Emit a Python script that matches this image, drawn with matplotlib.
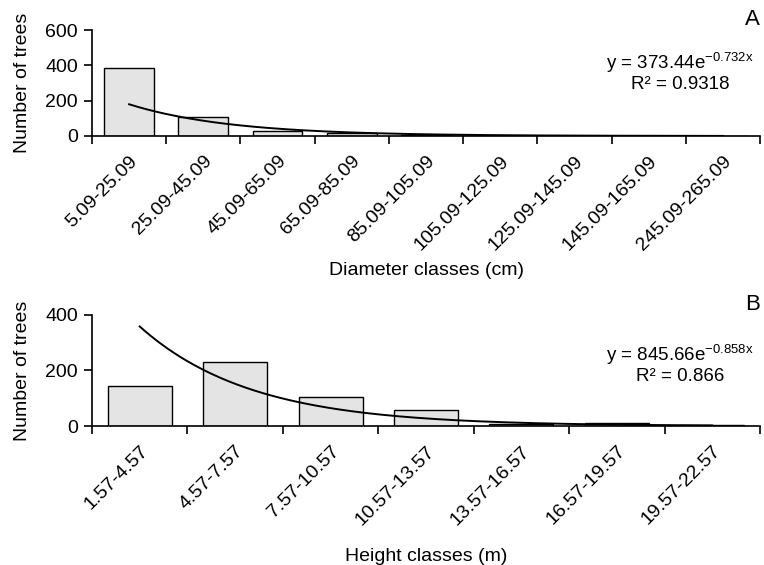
import numpy as np
import matplotlib
matplotlib.use("Agg")
from matplotlib import pyplot as plt

plt.rcParams['font.family'] = ['Liberation Sans', 'DejaVu Sans']
plt.rcParams['mathtext.default'] = 'regular'

# panel A: diameter classes
diam_classes = ["5.09-25.09", "25.09-45.09", "45.09-65.09", "65.09-85.09", "85.09-105.09",
                "105.09-125.09", "125.09-145.09", "145.09-165.09", "245.09-265.09"]
diam_counts = [385, 107, 26, 15, 5, 2, 1, 1, 1]
diam_a, diam_b = 373.44, -0.732

# panel B: height classes
height_classes = ["1.57-4.57", "4.57-7.57", "7.57-10.57", "10.57-13.57",
                  "13.57-16.57", "16.57-19.57", "19.57-22.57"]
height_counts = [145, 230, 103, 58, 8, 10, 3]
height_a, height_b = 845.66, -0.858

BAR_COLOR = "#e4e4e4"


def draw_panel(ax, labels, counts, a, b, ymax, xlabel, letter, eq, r2, xlabelpad, eq_y):
    n = len(labels)
    x = np.arange(1, n + 1)
    ax.bar(x, counts, width=0.67, color=BAR_COLOR, edgecolor="black", linewidth=1.0, zorder=2)
    xs = np.linspace(1, n, 200)
    ax.plot(xs, a * np.exp(b * xs), color="black", linewidth=1.4, zorder=3)

    ax.set_xlim(0.5, n + 0.5)
    ax.set_ylim(0, ymax)
    ax.set_yticks(np.arange(0, ymax + 1, 200))
    ax.set_xticks(np.arange(0.5, n + 1, 1.0))
    ax.set_xticklabels([])
    ax.set_xticks(x, minor=True)
    ax.set_xticklabels(labels, minor=True, rotation=45, ha="right", va="top",
                       rotation_mode="anchor", fontsize=14)
    ax.tick_params(axis="x", which="minor", length=0, pad=12)
    ax.tick_params(axis="x", which="major", direction="out", length=6, width=1.2)
    ax.tick_params(axis="y", direction="out", length=6, width=1.2, labelsize=14, pad=4)
    for s in ["top", "right"]:
        ax.spines[s].set_visible(False)
    for s in ["left", "bottom"]:
        ax.spines[s].set_linewidth(1.2)
    ax.set_ylabel("Number of trees", fontsize=14, labelpad=10)
    ax.set_xlabel(xlabel, fontsize=14, labelpad=xlabelpad)
    ax.text(1.0, 1.0, letter, transform=ax.transAxes, ha="right", va="bottom", fontsize=16)
    # equation lines placed in pixels relative to the axes
    ax.annotate(eq, xy=(0.88, eq_y), xycoords="axes fraction", ha="center", va="baseline",
                fontsize=13.5)
    ax.annotate(r2, xy=(0.88, eq_y), xycoords="axes fraction", xytext=(0, -20),
                textcoords="offset pixels", ha="center", va="baseline", fontsize=13.5)


fig = plt.figure(figsize=(7.64, 5.65), dpi=100)
ax1 = fig.add_axes([0.1204, 0.7593, 0.8744, 0.1876])
ax2 = fig.add_axes([0.1204, 0.246, 0.8744, 0.1965])

draw_panel(ax1, diam_classes, diam_counts, diam_a, diam_b, 600, "Diameter classes (cm)", "A",
           r"y = 373.44e$^{-0.732x}$", "R² = 0.9318", 6, 0.63)
draw_panel(ax2, height_classes, height_counts, height_a, height_b, 400, "Height classes (m)", "B",
           r"y = 845.66e$^{-0.858x}$", "R² = 0.866", 14, 0.59)

fig.savefig("out.png", dpi=100)
